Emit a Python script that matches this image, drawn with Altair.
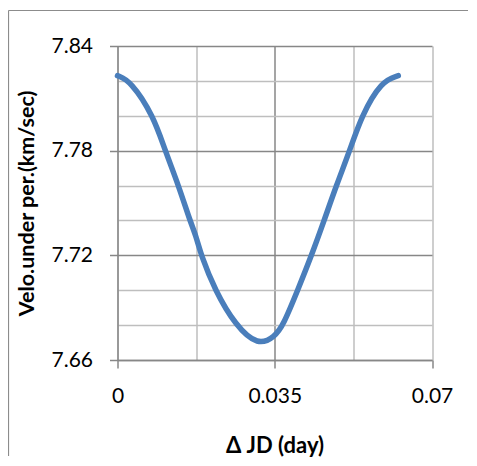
import altair as alt
import pandas as pd

# Data (curve crossings of the grid lines)
jd = [0, 0.0029, 0.0080, 0.0106, 0.0136, 0.0161, 0.0175, 0.0186, 0.0217,
      0.0262, 0.0313, 0.0350, 0.0369, 0.0401, 0.0432, 0.0460, 0.0487,
      0.0517, 0.0543, 0.0588, 0.0625]
velo = [7.823, 7.820, 7.800, 7.780, 7.760, 7.740, 7.731, 7.720, 7.700,
        7.680, 7.668, 7.6734, 7.680, 7.700, 7.720, 7.740, 7.760,
        7.780, 7.800, 7.820, 7.823]

x_ticks = [0, 0.0175, 0.035, 0.0525, 0.07]
x_major = [0, 0.035, 0.07]
y_ticks = [7.66, 7.68, 7.70, 7.72, 7.74, 7.76, 7.78, 7.80, 7.82, 7.84]
y_major = [7.66, 7.72, 7.78, 7.84]

df = pd.DataFrame({"jd": jd, "velo": velo})

DARK = "#878787"
LIGHT = "#BEBEBE"
FONT = "Lato"

x_major_test = " || ".join(f"abs(datum.value - {v}) < 1e-9" for v in x_major)
x_dark_grid = "abs(datum.value - 0.035) < 1e-9"
y_major_test = " || ".join(f"abs(datum.value - {v}) < 1e-9" for v in y_major)

x_axis = alt.Axis(
    values=x_ticks,
    title="\u0394 JD (day)",
    titleFont=FONT, titleFontSize=22, titleFontWeight="bold", titleColor="black",
    titleX=157, titleY=85, titleAlign="center", titleBaseline="middle",
    labelFont=FONT, labelFontSize=21, labelColor="black", labelPadding=17,
    labelExpr=f"({x_major_test}) ? (datum.value == 0 ? '0' : format(datum.value, '.3~f')) : ''",
    tickSize=8,
    tickColor={"condition": {"test": x_major_test, "value": DARK}, "value": "transparent"},
    gridColor={"condition": {"test": x_dark_grid, "value": DARK}, "value": LIGHT},
    gridWidth=1.5, tickWidth=1.5,
    domainColor=DARK, domainWidth=1.5,
    labelFlush=False,
)

y_axis = alt.Axis(
    values=y_ticks,
    title="Velo.under per.(km/sec)",
    titleFont=FONT, titleFontSize=21.5, titleFontWeight="bold", titleColor="black",
    titleX=-90, titleY=157, titleAngle=270, titleAlign="center", titleBaseline="middle",
    labelFont=FONT, labelFontSize=21, labelColor="black", labelPadding=17,
    labelExpr=f"({y_major_test}) ? format(datum.value, '.2f') : ''",
    tickSize=8,
    tickColor={"condition": {"test": y_major_test, "value": DARK}, "value": "transparent"},
    gridColor={"condition": {"test": y_major_test, "value": DARK}, "value": LIGHT},
    gridWidth=1.5, tickWidth=1.5,
    domainColor=DARK, domainWidth=1.5,
    labelFlush=False,
)

line = alt.Chart(df).mark_line(
    color="#4A7EBB", strokeWidth=5.5, interpolate="basis", strokeCap="round"
).encode(
    x=alt.X("jd:Q", scale=alt.Scale(domain=[0, 0.07], nice=False, zero=False), axis=x_axis),
    y=alt.Y("velo:Q", scale=alt.Scale(domain=[7.66, 7.84], nice=False, zero=False), axis=y_axis),
)

# chart-area border (only its left and top edges are inside the picture)
one = pd.DataFrame({"f": [0]})
frame_left = alt.Chart(one).mark_rule(color="#8C8C8C", strokeWidth=1.2).encode(
    x=alt.value(-109), y=alt.value(-35.5), y2=alt.value(410)
)
frame_top = alt.Chart(one).mark_rule(color="#8C8C8C", strokeWidth=1.2).encode(
    x=alt.value(-109), x2=alt.value(356), y=alt.value(-35.5)
)

chart = alt.layer(frame_left, frame_top, line).properties(
    width=314.5, height=314,
    autosize=alt.AutoSizeParams(type="none"),
    padding={"left": 109.5, "top": 38, "right": 36, "bottom": 97},
).configure_view(stroke=None)

chart.save("out.html", embed_options={"renderer": "svg", "actions": False})
